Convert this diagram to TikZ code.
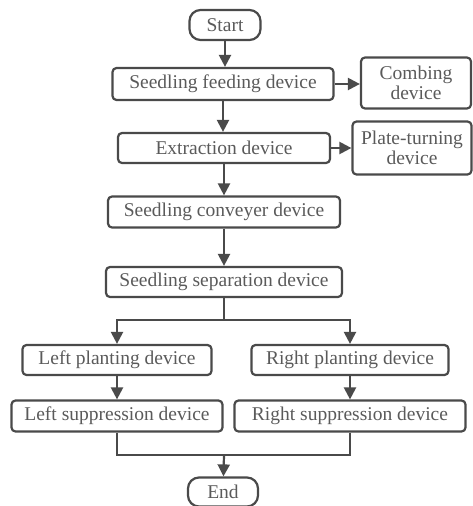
\documentclass[tikz,border=0pt]{standalone}
\usepackage{fontspec}
\setmainfont{Liberation Serif}
\usetikzlibrary{arrows.meta}
\definecolor{linegray}{HTML}{4A4A4A}
\definecolor{textgray}{HTML}{5A5A5A}
\begin{document}
\begin{tikzpicture}[x=1pt,y=-1pt,
    box/.style={draw=linegray, line width=2.2pt, rounded corners=4pt,
                text=textgray, font=\fontsize{19.5}{20}\selectfont,
                inner sep=0pt, align=center},
    term/.style={box, rounded corners=11pt},
    flow/.style={draw=linegray, line width=2.2pt,
                 -{Triangle[width=12pt,length=12pt]}},
    link/.style={draw=linegray, line width=2.2pt}]
  \useasboundingbox (0,0) rectangle (472,506);

  \node[term, minimum width=71pt,  minimum height=30pt] (start) at (225,25)  {Start};
  \node[box,  minimum width=221pt, minimum height=32pt] (feed)  at (223,84)  {Seedling feeding device};
  \node[box,  minimum width=110pt, minimum height=51pt] (comb)  at (416,83)  {Combing\\device};
  \node[box,  minimum width=212pt, minimum height=30pt] (extr)  at (224,148) {Extraction device};
  \node[box,  minimum width=119pt, minimum height=53pt] (plate) at (412,148) {Plate-turning\\device};
  \node[box,  minimum width=232pt, minimum height=31pt] (conv)  at (224,212) {Seedling conveyer device};
  \node[box,  minimum width=236pt, minimum height=30pt] (sep)   at (224,282) {Seedling separation device};
  \node[box,  minimum width=189pt, minimum height=30pt] (lplant) at (117,360) {Left planting device};
  \node[box,  minimum width=197pt, minimum height=30pt] (rplant) at (350,360) {Right planting device};
  \node[box,  minimum width=211pt, minimum height=31pt] (lsupp) at (117,416) {Left suppression device};
  \node[box,  minimum width=231pt, minimum height=31pt] (rsupp) at (350,416) {Right suppression device};
  \node[term, minimum width=70pt,  minimum height=29pt] (end)   at (223,492) {End};

  \coordinate (split) at (224,320);
  \coordinate (join)  at (224,455);

  % main line
  \draw[flow] (start) -- (start |- feed.north);
  \draw[flow] (feed.east) -- (comb.west |- feed.east);
  \draw[flow] (feed) -- (feed |- extr.north);
  \draw[flow] (extr.east) -- (plate.west);
  \draw[flow] (extr) -- (extr |- conv.north);
  \draw[flow] (conv) -- (conv |- sep.north);

  % two rows
  \draw[link] (sep.south) -- (split);
  \draw[flow] (split) -| (lplant.north);
  \draw[flow] (split) -| (rplant.north);
  \draw[flow] (lplant) -- (lsupp);
  \draw[flow] (rplant) -- (rsupp);
  \draw[link] (lsupp.south) |- (join);
  \draw[link] (rsupp.south) |- (join);
  \draw[flow] (join) -- (end);
\end{tikzpicture}
\end{document}
